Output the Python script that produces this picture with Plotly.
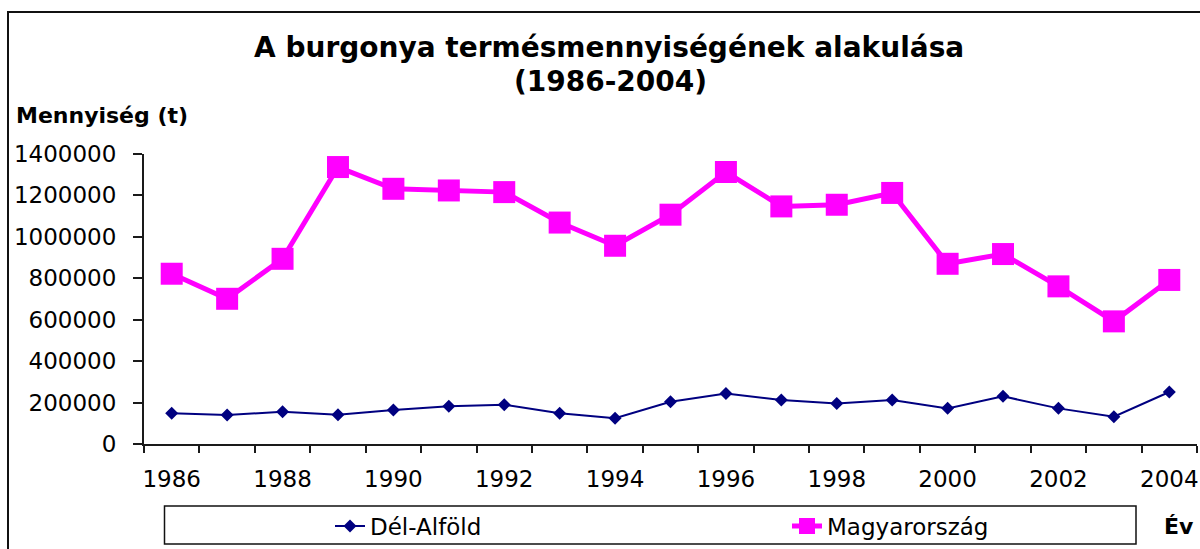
import plotly.graph_objects as go

# Potato yield (tonnes), 1986-2004
years = list(range(1986, 2005))
del_alfold = [148000, 140000, 156000, 141000, 164000, 182000, 190000, 148000,
              124000, 204000, 244000, 212000, 196000, 212000, 172000, 230000,
              172000, 132000, 251000]
magyarorszag = [822000, 701000, 894000, 1337000, 1232000, 1224000, 1216000,
                1069000, 957000, 1107000, 1313000, 1147000, 1155000, 1212000,
                870000, 917000, 761000, 592000, 792000]
x_tick_years = list(range(1986, 2005, 2))
y_tick_values = list(range(0, 1400001, 200000))

title_lines = ["A burgonya termésmennyiségének alakulása", "(1986-2004)"]
y_title = "Mennyiség (t)"
x_title = "Év"

W, H = 1200, 549
L, R, T, B = 144, 3, 154, 105
PW, PH = W - L - R, H - T - B


def px(x):
    """pixel column -> paper x"""
    return (x - L) / PW


def py(y):
    """pixel row -> paper y"""
    return (H - B - y) / PH


FONT = "DejaVu Sans"
AXIS_COLOR = "#1a1a1a"

fig = go.Figure()
fig.add_trace(go.Scatter(
    x=years, y=del_alfold, name="Dél-Alföld", mode="lines+markers",
    line=dict(color="#000080", width=2),
    marker=dict(symbol="diamond", size=10, color="#000080"),
    legend="legend", cliponaxis=False,
))
fig.add_trace(go.Scatter(
    x=years, y=magyarorszag, name="Magyarország", mode="lines+markers",
    line=dict(color="#FF00FF", width=5),
    marker=dict(symbol="square", size=22, color="#FF00FF"),
    legend="legend2", cliponaxis=False,
))

shapes = [
    # outer chart frame (runs past the right and bottom edges)
    dict(type="rect", xref="paper", yref="paper",
         x0=px(8), x1=px(1215), y0=py(12), y1=py(570),
         line=dict(color="#111", width=2), layer="below"),
    # legend frame
    dict(type="rect", xref="paper", yref="paper",
         x0=px(164.5), x1=px(1136), y0=py(506), y1=py(544),
         line=dict(color="#111", width=1.5), layer="below"),
]

annotations = [
    dict(text=title_lines[0], x=px(609), y=py(47), xref="paper", yref="paper",
         showarrow=False, xanchor="center", yanchor="middle",
         font=dict(family=FONT, size=28, color="black", weight="bold")),
    dict(text=title_lines[1], x=px(610), y=py(82), xref="paper", yref="paper",
         showarrow=False, xanchor="center", yanchor="middle",
         font=dict(family=FONT, size=28, color="black", weight="bold")),
    dict(text=y_title, x=px(14), y=py(115), xref="paper", yref="paper",
         showarrow=False, xanchor="left", yanchor="middle",
         font=dict(family=FONT, size=22, color="black", weight="bold")),
    dict(text=x_title, x=px(1162), y=py(526), xref="paper", yref="paper",
         showarrow=False, xanchor="left", yanchor="middle",
         font=dict(family=FONT, size=22, color="black", weight="bold")),
]

legend_common = dict(
    orientation="h", xanchor="left", yanchor="middle",
    bgcolor="rgba(0,0,0,0)", borderwidth=0,
    font=dict(family=FONT, size=23, color="black"),
)

fig.update_layout(
    width=W, height=H,
    margin=dict(l=L, r=R, t=T, b=B, pad=0, autoexpand=False),
    paper_bgcolor="white", plot_bgcolor="white",
    showlegend=True,
    legend=dict(x=px(330), y=py(526), **legend_common),
    legend2=dict(x=px(787), y=py(526), **legend_common),
    shapes=shapes,
    annotations=annotations,
    xaxis=dict(
        range=[1985.5, 2004.5], tickmode="array", tickvals=x_tick_years,
        ticktext=[str(v) for v in x_tick_years],
        ticks="outside", ticklen=7, tickcolor="rgba(0,0,0,0)",
        minor=dict(tick0=1985.5, dtick=1, ticks="outside", ticklen=7,
                   tickwidth=1.5, tickcolor=AXIS_COLOR, showgrid=False),
        showline=True, linecolor=AXIS_COLOR, linewidth=2,
        showgrid=False, zeroline=False, fixedrange=True,
        tickfont=dict(family=FONT, size=23, color="black"),
        ticklabelstandoff=6,
    ),
    yaxis=dict(
        range=[0, 1400000], tickmode="array", tickvals=y_tick_values,
        ticktext=[str(v) for v in y_tick_values],
        ticks="outside", ticklen=9, tickwidth=1.5, tickcolor=AXIS_COLOR,
        showline=True, linecolor=AXIS_COLOR, linewidth=2,
        showgrid=False, zeroline=False, fixedrange=True,
        tickfont=dict(family=FONT, size=23, color="black"),
        ticklabelstandoff=12,
    ),
)

fig.write_html("out.html", config={"displayModeBar": False})
